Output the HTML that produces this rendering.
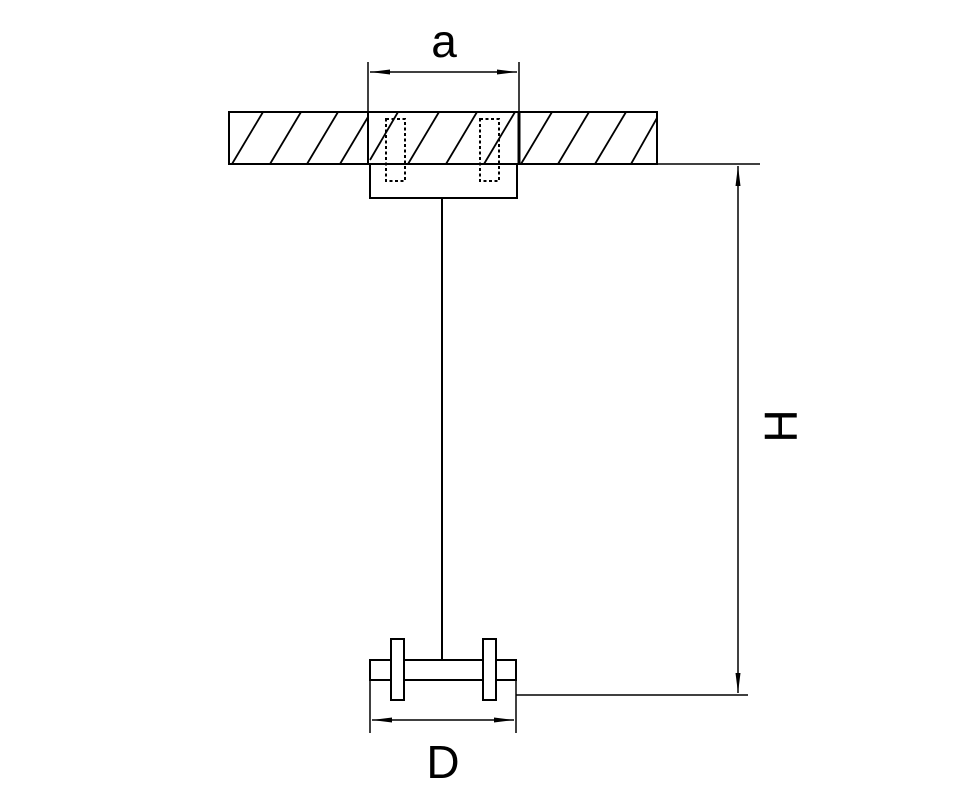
<!DOCTYPE html>
<html><head><style>html,body{margin:0;padding:0;background:#fff;}svg{display:block}</style></head>
<body>
<svg width="978" height="800" viewBox="0 0 978 800" xmlns="http://www.w3.org/2000/svg">
<defs>
<marker id="ar" viewBox="0 0 20 8" refX="20" refY="4" markerWidth="20" markerHeight="8" markerUnits="userSpaceOnUse" orient="auto-start-reverse">
<path d="M0,1.5 L20,4 L0,6.5 Z" fill="#000"/>
</marker>
</defs>
<g stroke="#000" fill="none" stroke-width="2">
<rect x="229" y="112" width="428" height="52"/>
<line x1="368" y1="112" x2="368" y2="164"/>
<line x1="519" y1="112" x2="519" y2="164" stroke-width="3"/>
<g stroke-width="1.8">
<line x1="232" y1="164" x2="263" y2="112"/>
<line x1="270" y1="164" x2="301" y2="112"/>
<line x1="307" y1="164" x2="338" y2="112"/>
<line x1="340" y1="164" x2="368" y2="117"/>
<line x1="370" y1="160" x2="398" y2="112"/>
<line x1="408" y1="164" x2="439" y2="112"/>
<line x1="446" y1="164" x2="477" y2="112"/>
<line x1="484" y1="164" x2="515" y2="112"/>
<line x1="521" y1="164" x2="552" y2="112"/>
<line x1="558" y1="164" x2="589" y2="112"/>
<line x1="595" y1="164" x2="626" y2="112"/>
<line x1="631" y1="164" x2="657" y2="118"/>
</g>
<rect x="370" y="164" width="147" height="34"/>
<rect x="386" y="119" width="19" height="62" stroke-dasharray="3,2.5"/>
<rect x="480" y="119" width="19" height="62" stroke-dasharray="3,2.5"/>
<line x1="442" y1="198" x2="442" y2="660"/>
<rect x="370" y="660" width="146" height="20"/>
<rect x="391" y="639" width="13" height="61" fill="#fff"/>
<rect x="483" y="639" width="13" height="61" fill="#fff"/>
<g stroke-width="1.5">
<line x1="368" y1="62" x2="368" y2="112"/>
<line x1="519" y1="62" x2="519" y2="112"/>
<line x1="370" y1="72" x2="517" y2="72" marker-start="url(#ar)" marker-end="url(#ar)"/>
<line x1="657" y1="164" x2="760" y2="164"/>
<line x1="516" y1="695" x2="748" y2="695"/>
<line x1="738" y1="166" x2="738" y2="693" marker-start="url(#ar)" marker-end="url(#ar)"/>
<line x1="370" y1="680" x2="370" y2="733"/>
<line x1="516" y1="680" x2="516" y2="733"/>
<line x1="372" y1="720" x2="514" y2="720" marker-start="url(#ar)" marker-end="url(#ar)"/>
</g>
</g>
<text x="444" y="57" font-family="Liberation Sans, sans-serif" font-size="46" text-anchor="middle">a</text>
<text x="443" y="778" font-family="Liberation Sans, sans-serif" font-size="46" text-anchor="middle">D</text>
<text x="0" y="0" font-family="Liberation Sans, sans-serif" font-size="46" text-anchor="middle" transform="translate(797,426) rotate(-90)">H</text>
</svg>
</body></html>
